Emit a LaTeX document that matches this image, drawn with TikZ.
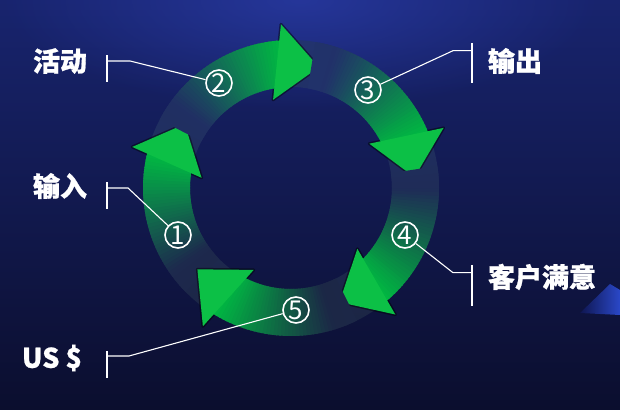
\documentclass[tikz,border=0pt]{standalone}
\usepackage{fontspec}
\newfontfamily\cjk{Noto Sans CJK SC}
\usetikzlibrary{fadings}
\definecolor{bgtop}{HTML}{18246E}
\definecolor{bgmid}{HTML}{0F1650}
\definecolor{bgbot}{HTML}{0B0E2E}
\definecolor{glowc}{HTML}{2A3CA8}
\definecolor{ringtop}{HTML}{22336E}
\definecolor{ringbot}{HTML}{1B2542}
\definecolor{agreen}{HTML}{00B842}
\definecolor{headg}{HTML}{0CC046}
\definecolor{tribl}{HTML}{2A48C8}
\tikzfading[name=glow, inner color=transparent!0, outer color=transparent!100]
\newcommand\greenarrow[1]{%
  \draw[black, opacity=.45, line width=3pt, line join=round]
    (#1+4:90) -- (#1-4:164) -- (#1-20.5:124) -- cycle;
  \foreach \i in {0,...,39} {
    \pgfmathsetmacro\angA{#1+55-\i*58/40}
    \pgfmathsetmacro\angB{#1+55-(\i+1)*58/40-0.6}
    \pgfmathsetmacro\tt{max(0,((\i+0.5)/40-0.15)/0.85)}
    \pgfmathtruncatemacro\pp{min(100,(\tt^1.05)*100)}
    \pgfmathtruncatemacro\fp{(sin((\angA+\angB)/2)*124+148)/296*100}
    \colorlet{rl}{ringtop!\fp!ringbot}
    \fill[agreen!\pp!rl] (\angA:101) arc[start angle=\angA, end angle=\angB, radius=101]
      -- (\angB:148) arc[start angle=\angB, end angle=\angA, radius=148] -- cycle;
  }
  \fill[headg] (#1+4:90) -- (#1-4:164) -- (#1-20.5:124) -- cycle;
}
\begin{document}
\begin{tikzpicture}[x=1pt,y=1pt,
  lbl/.style={text=white, font=\cjk\bfseries\addfontfeature{FakeBold=0.8}\fontsize{27}{27}\selectfont, inner sep=0pt},
  num/.style={circle, draw=white, line width=1.6pt, text=white, minimum size=26pt,
    inner sep=0pt, font=\cjk\fontsize{26}{26}\selectfont},
  leader/.style={draw=white, line width=1.1pt},
  ]
\useasboundingbox (0,0) rectangle (620,409);
% background
\shade[top color=bgtop, middle color=bgmid, bottom color=bgbot] (0,0) rectangle (620,409);
\fill[glowc, path fading=glow, opacity=.75] (300,409) ellipse[x radius=300, y radius=110];
\shade[left color=bgmid, right color=tribl] (580,96) -- (610,125) -- (620,119) -- (620,94) -- cycle;
% ring and arrows
\begin{scope}[shift={(291,221)}]
  \shade[top color=ringtop, bottom color=ringbot, even odd rule]
    (0,0) circle[radius=148] (0,0) circle[radius=101];
  \greenarrow{169.5}
  \greenarrow{97.5}
  \greenarrow{25.5}
  \greenarrow{-46.5}
  \greenarrow{-118.5}
\end{scope}
% numbers
\node[num] (n1) at (178,174) {1};
\node[num] (n2) at (219,326) {2};
\node[num] (n3) at (368,319) {3};
\node[num] (n4) at (405,174) {4};
\node[num] (n5) at (296,99) {5};
% labels
\node[lbl] (l2) at (60,348) {活动};
\node[lbl] (l1) at (60,223) {输入};
\node[lbl] (l3) at (515,348) {输出};
\node[lbl] (l4) at (542,132) {客户满意};
\node[lbl] (l5) at (52,51) {US \$};
% leader coordinates
\coordinate (b2t) at (107,354); \coordinate (b2b) at (107,327);
\coordinate (h2) at (107,348); \coordinate (e2) at (130,348);
\coordinate (b1t) at (107,227); \coordinate (b1b) at (107,200);
\coordinate (h1) at (107,221); \coordinate (e1) at (128,221);
\coordinate (b3t) at (472,366); \coordinate (b3b) at (472,326);
\coordinate (h3) at (472,358.3); \coordinate (e3) at (453,358.3);
\coordinate (b4t) at (472,144); \coordinate (b4b) at (472,103);
\coordinate (h4) at (472,136.3); \coordinate (e4) at (453,136.3);
\coordinate (b5t) at (107,58); \coordinate (b5b) at (107,31);
\coordinate (h5) at (107,53); \coordinate (e5) at (129,53);
\foreach \k in {1,...,5} {
  \draw[leader] (b\k t) -- (b\k b);
  \draw[leader] (h\k) -- (e\k) -- (n\k);
}
\end{tikzpicture}
\end{document}
